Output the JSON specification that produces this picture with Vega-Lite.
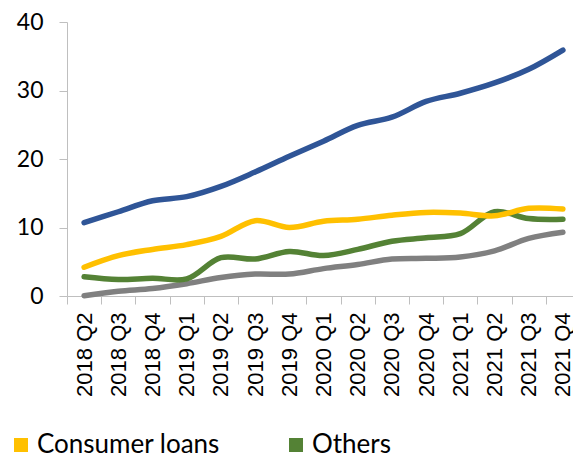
{
  "$schema": "https://vega.github.io/schema/vega-lite/v6.json",
  "width": 506,
  "height": 274,
  "autosize": {"type": "none"},
  "padding": {"left": 67, "top": 22, "right": 0, "bottom": 158},
  "background": "white",
  "config": {"view": {"stroke": null}},
  "data": {"values": [
    {"quarter": "2018 Q2", "series": "Housing loans", "value": 10.7},
    {"quarter": "2018 Q3", "series": "Housing loans", "value": 12.3},
    {"quarter": "2018 Q4", "series": "Housing loans", "value": 13.9},
    {"quarter": "2019 Q1", "series": "Housing loans", "value": 14.5},
    {"quarter": "2019 Q2", "series": "Housing loans", "value": 16.0},
    {"quarter": "2019 Q3", "series": "Housing loans", "value": 18.1},
    {"quarter": "2019 Q4", "series": "Housing loans", "value": 20.4},
    {"quarter": "2020 Q1", "series": "Housing loans", "value": 22.6},
    {"quarter": "2020 Q2", "series": "Housing loans", "value": 24.9},
    {"quarter": "2020 Q3", "series": "Housing loans", "value": 26.1},
    {"quarter": "2020 Q4", "series": "Housing loans", "value": 28.4},
    {"quarter": "2021 Q1", "series": "Housing loans", "value": 29.6},
    {"quarter": "2021 Q2", "series": "Housing loans", "value": 31.1},
    {"quarter": "2021 Q3", "series": "Housing loans", "value": 33.1},
    {"quarter": "2021 Q4", "series": "Housing loans", "value": 35.9},
    {"quarter": "2018 Q2", "series": "Business loans", "value": 0.05},
    {"quarter": "2018 Q3", "series": "Business loans", "value": 0.7},
    {"quarter": "2018 Q4", "series": "Business loans", "value": 1.1},
    {"quarter": "2019 Q1", "series": "Business loans", "value": 1.8},
    {"quarter": "2019 Q2", "series": "Business loans", "value": 2.7},
    {"quarter": "2019 Q3", "series": "Business loans", "value": 3.2},
    {"quarter": "2019 Q4", "series": "Business loans", "value": 3.2},
    {"quarter": "2020 Q1", "series": "Business loans", "value": 4.0},
    {"quarter": "2020 Q2", "series": "Business loans", "value": 4.6},
    {"quarter": "2020 Q3", "series": "Business loans", "value": 5.4},
    {"quarter": "2020 Q4", "series": "Business loans", "value": 5.5},
    {"quarter": "2021 Q1", "series": "Business loans", "value": 5.7},
    {"quarter": "2021 Q2", "series": "Business loans", "value": 6.6},
    {"quarter": "2021 Q3", "series": "Business loans", "value": 8.4},
    {"quarter": "2021 Q4", "series": "Business loans", "value": 9.3},
    {"quarter": "2018 Q2", "series": "Others", "value": 2.8},
    {"quarter": "2018 Q3", "series": "Others", "value": 2.4},
    {"quarter": "2018 Q4", "series": "Others", "value": 2.6},
    {"quarter": "2019 Q1", "series": "Others", "value": 2.5},
    {"quarter": "2019 Q2", "series": "Others", "value": 5.6},
    {"quarter": "2019 Q3", "series": "Others", "value": 5.4},
    {"quarter": "2019 Q4", "series": "Others", "value": 6.5},
    {"quarter": "2020 Q1", "series": "Others", "value": 5.9},
    {"quarter": "2020 Q2", "series": "Others", "value": 6.8},
    {"quarter": "2020 Q3", "series": "Others", "value": 8.0},
    {"quarter": "2020 Q4", "series": "Others", "value": 8.5},
    {"quarter": "2021 Q1", "series": "Others", "value": 9.1},
    {"quarter": "2021 Q2", "series": "Others", "value": 12.3},
    {"quarter": "2021 Q3", "series": "Others", "value": 11.3},
    {"quarter": "2021 Q4", "series": "Others", "value": 11.2},
    {"quarter": "2018 Q2", "series": "Consumer loans", "value": 4.2},
    {"quarter": "2018 Q3", "series": "Consumer loans", "value": 5.9},
    {"quarter": "2018 Q4", "series": "Consumer loans", "value": 6.8},
    {"quarter": "2019 Q1", "series": "Consumer loans", "value": 7.5},
    {"quarter": "2019 Q2", "series": "Consumer loans", "value": 8.7},
    {"quarter": "2019 Q3", "series": "Consumer loans", "value": 11.0},
    {"quarter": "2019 Q4", "series": "Consumer loans", "value": 10.0},
    {"quarter": "2020 Q1", "series": "Consumer loans", "value": 10.9},
    {"quarter": "2020 Q2", "series": "Consumer loans", "value": 11.2},
    {"quarter": "2020 Q3", "series": "Consumer loans", "value": 11.8},
    {"quarter": "2020 Q4", "series": "Consumer loans", "value": 12.2},
    {"quarter": "2021 Q1", "series": "Consumer loans", "value": 12.1},
    {"quarter": "2021 Q2", "series": "Consumer loans", "value": 11.7},
    {"quarter": "2021 Q3", "series": "Consumer loans", "value": 12.8},
    {"quarter": "2021 Q4", "series": "Consumer loans", "value": 12.7}
  ]},
  "mark": {"type": "line", "interpolate": "catmull-rom", "strokeWidth": 5.5, "strokeCap": "round", "clip": false},
  "encoding": {
    "x": {
      "field": "quarter", "type": "ordinal", "sort": null, "bandPosition": 0.5,
      "scale": {"type": "band", "range": [0, 513], "paddingInner": 0, "paddingOuter": 0},
      "axis": {
        "title": null, "tickBand": "extent", "labelAngle": -90,
        "labelFont": "Liberation Sans", "labelFontSize": 22, "labelColor": "#000000",
        "labelPadding": 8, "domainColor": "#BFBFBF", "tickColor": "#BFBFBF", "tickSize": 8,
        "grid": false
      }
    },
    "y": {
      "field": "value", "type": "quantitative",
      "scale": {"domain": [0, 40], "nice": false},
      "axis": {
        "title": null, "values": [0, 10, 20, 30, 40], "grid": false,
        "labelFont": "Lato", "labelFontSize": 23, "labelColor": "#000000",
        "labelPadding": 16, "domainColor": "#BFBFBF", "tickColor": "#BFBFBF", "tickSize": 8
      }
    },
    "color": {
      "field": "series", "type": "nominal",
      "scale": {
        "domain": ["Consumer loans", "Others", "Housing loans", "Business loans"],
        "range": ["#FFC000", "#548235", "#2F5597", "#808080"]
      },
      "legend": {
        "title": null, "orient": "none", "legendX": -59, "legendY": 410, "padding": 0,
        "values": ["Consumer loans", "Others"],
        "direction": "horizontal", "columns": 2, "symbolType": "square", "symbolSize": 196,
        "symbolStrokeWidth": 0, "labelFont": "Lato", "labelFontSize": 26, "labelLimit": 400,
        "labelColor": "#000000", "labelOffset": 3, "columnPadding": 63, "rowPadding": 10,
        "encode": {"symbols": {"update": {"fill": {"scale": "color", "field": "value"}, "strokeWidth": {"value": 0}}}}
      }
    }
  }
}
